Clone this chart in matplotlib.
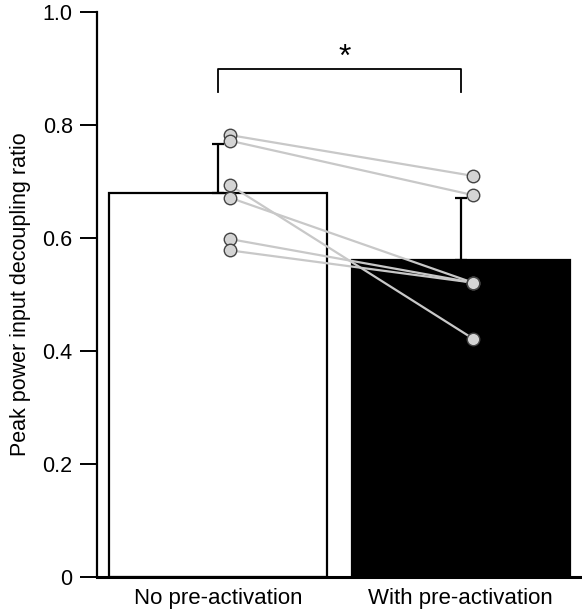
import numpy as np
import matplotlib.pyplot as plt
from matplotlib.ticker import FuncFormatter

plt.rcParams['font.family'] = ['Liberation Sans', 'DejaVu Sans']

conditions = ['No pre-activation', 'With pre-activation']
bar_means = [0.680, 0.561]
bar_sd = [0.087, 0.110]
bar_colors = ['white', 'black']

# per-subject values (paired)
no_pre = [0.782, 0.772, 0.693, 0.671, 0.598, 0.578]
with_pre = [0.710, 0.676, 0.422, 0.521, 0.521, 0.521]

yticks = [0, 0.2, 0.4, 0.6, 0.8, 1.0]

fig = plt.figure(figsize=(5.82, 6.12), dpi=100)
ax = fig.add_axes([97 / 582, 35 / 612, 485 / 582, 565 / 612])

x = np.arange(len(conditions))
ax.bar(x, bar_means, width=0.9, color=bar_colors, edgecolor='black', linewidth=1.6, zorder=1)
ax.errorbar(x, bar_means, yerr=[[0, 0], bar_sd], fmt='none', ecolor='black',
            elinewidth=1.6, capsize=4.5, capthick=1.6, zorder=2)

off = 0.05
for a, b in zip(no_pre, with_pre):
    ax.plot([x[0] + off, x[1] + off], [a, b], color='#c8c8c8', linewidth=1.6, zorder=3)
ax.plot([x[0] + off] * len(no_pre), no_pre, 'o', ms=9, mfc='#d4d4d4', mec='#444444', mew=1.0, zorder=4)
ax.plot([x[1] + off] * len(with_pre), with_pre, 'o', ms=9, mfc='#d4d4d4', mec='#444444', mew=1.0, zorder=4)

# significance bracket
ax.plot([0, 0, 1, 1], [0.858, 0.899, 0.899, 0.858], color='black', linewidth=1.3)
ax.text(0.52, 0.893, '*', ha='center', va='bottom', fontsize=23)

ax.set_xlim(-0.5, 1.5)
ax.set_ylim(0, 1.0)
ax.set_yticks(yticks)
ax.yaxis.set_major_formatter(FuncFormatter(lambda v, p: '0' if v == 0 else f'{v:.1f}'))
ax.set_xticks(x)
ax.set_xticklabels(conditions, fontsize=16)
ax.tick_params(axis='y', labelsize=15.5, length=12.5, width=1.4, pad=5)
ax.tick_params(axis='x', length=0, pad=8)
ax.set_ylabel('Peak power input decoupling ratio', fontsize=15.5, labelpad=8)

for s in ['top', 'right']:
    ax.spines[s].set_visible(False)
ax.spines['left'].set_linewidth(1.6)
ax.spines['bottom'].set_linewidth(2.2)

fig.savefig('out.png', dpi=100)
